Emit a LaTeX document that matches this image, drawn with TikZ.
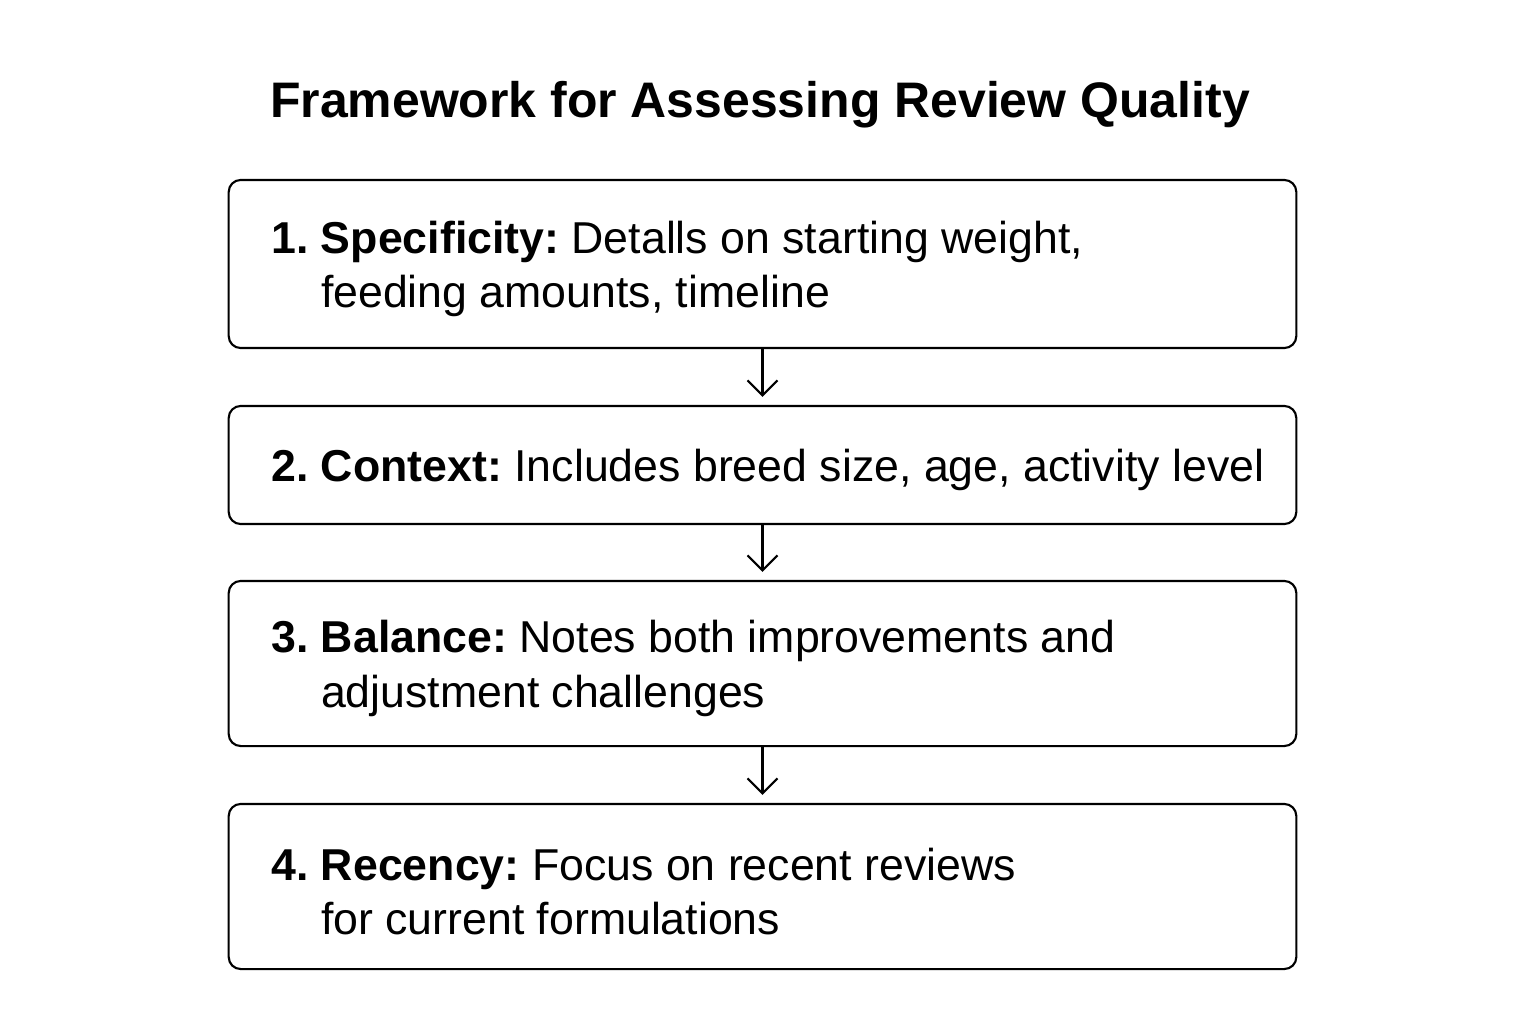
\documentclass[tikz,border=0pt]{standalone}
\usepackage{fontspec}
\setmainfont{Liberation Sans}
\frenchspacing
\usetikzlibrary{arrows.meta,positioning}

\begin{document}
\begin{tikzpicture}[x=0.01cm,y=-0.01cm,
    stagebox/.style={draw, line width=0.6pt, rounded corners=0.12cm,
      minimum width=10.67cm, inner sep=0pt},
    stagetext/.style={inner sep=0pt, align=left, yshift=-0.05cm,
      font=\fontsize{12.7}{15.6}\selectfont},
    flow/.style={-{Straight Barb[length=0.15cm,width=0.3cm]},
      line width=0.6pt, shorten >=0.08cm}]

      \useasboundingbox (0,0) rectangle (1536,1024);

      % The title.
      \node[anchor=base, font=\fontsize{14.2}{17}\selectfont\bfseries]
        (title) at (760,117) {Framework for Assessing Review Quality};

      % The four criteria boxes.
      \node[stagebox, minimum height=1.68cm] (spec) at (762.5,264) {};
      \node[stagebox, minimum height=1.18cm] (ctx) at (762.5,465) {};
      \node[stagebox, minimum height=1.65cm] (bal) at (762.5,663.5) {};
      \node[stagebox, minimum height=1.65cm] (rec) at (762.5,886.5) {};

      % Their texts.
      \node[stagetext, right=0.43cm of spec.west] (spec-txt)
        {\textbf{1. Specificity:} Detalls on starting weight,\\
         \hphantom{\textbf{1. }}feeding amounts, timeline};
      \node[stagetext, right=0.43cm of ctx.west] (ctx-txt)
        {\textbf{2. Context:} Includes breed size, age, activity level};
      \node[stagetext, right=0.43cm of bal.west] (bal-txt)
        {\textbf{3. Balance:} Notes both improvements and\\
         \hphantom{\textbf{3. }}adjustment challenges};
      \node[stagetext, right=0.43cm of rec.west] (rec-txt)
        {\textbf{4. Recency:} Focus on recent reviews\\
         \hphantom{\textbf{4. }}for current formulations};

      % The arrows between them.
      \draw[flow] (spec) -- (ctx);
      \draw[flow] (ctx) -- (bal);
      \draw[flow] (bal) -- (rec);

    \end{tikzpicture}
\end{document}
